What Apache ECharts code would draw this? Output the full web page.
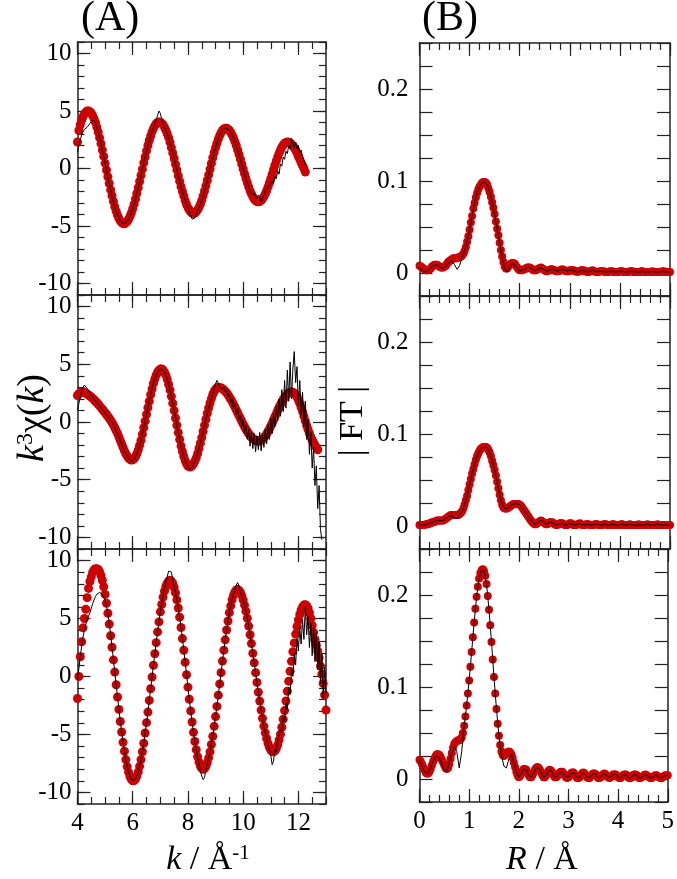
<!DOCTYPE html>
<html><head><meta charset="utf-8">
<script src="https://cdn.jsdelivr.net/npm/echarts@6/dist/echarts.min.js"></script>
<style>html,body{margin:0;padding:0;background:#fff}#c{width:677px;height:879px}</style>
</head><body><div id="c"></div>
<script>
// ---- sampling grids ----
const kStart = 4, kStep = 0.05;
const rStart = 0, rFitStep = 0.025, rExpStep = 0.05;

// ---- tick positions / labels ----
const kMajorTicks = [4, 6, 8, 10, 12];
const chiTicks = [-10, -5, 0, 5, 10];
const rMajorTicks = [0, 1, 2, 3, 4, 5];
const ftLabelTicks = [0, 0.1, 0.2];

// ---- (A) k^3 chi(k): fit (red dots) and experiment (black line) ----
const chiFit1 = [
2.3,3.3,3.8,4.2,4.5,4.75,4.9,5.0,5.0,4.93,
4.8,4.59,4.32,4.0,3.6,3.17,2.68,2.16,1.61,1.05,
0.45,-0.13,-0.72,-1.3,-1.86,-2.37,-2.86,-3.33,-3.71,-4.07,
-4.34,-4.56,-4.71,-4.79,-4.8,-4.73,-4.61,-4.42,-4.17,-3.87,
-3.5,-3.1,-2.65,-2.16,-1.67,-1.13,-0.6,-0.06,0.49,1.0,
1.53,2.0,2.43,2.83,3.19,3.47,3.71,3.89,4.0,4.05,
4.03,3.95,3.8,3.6,3.33,3.03,2.69,2.28,1.82,1.35,
0.87,0.37,-0.12,-0.62,-1.11,-1.58,-2.0,-2.39,-2.79,-3.13,
-3.4,-3.61,-3.77,-3.87,-3.9,-3.87,-3.77,-3.6,-3.38,-3.1,
-2.77,-2.38,-1.96,-1.51,-1.04,-0.55,-0.05,0.44,0.93,1.39,
1.82,2.2,2.56,2.86,3.12,3.31,3.43,3.49,3.49,3.43,
3.31,3.14,2.92,2.65,2.34,2.0,1.61,1.22,0.81,0.38,
-0.04,-0.46,-0.87,-1.24,-1.6,-1.94,-2.21,-2.45,-2.65,-2.79,
-2.87,-2.9,-2.87,-2.79,-2.64,-2.45,-2.21,-1.93,-1.6,-1.26,
-0.88,-0.5,-0.1,0.28,0.65,1.0,1.32,1.61,1.85,2.04,
2.19,2.27,2.3,2.28,2.22,2.12,1.98,1.8,1.6,1.35,
1.05,0.8,0.5,0.25,0.0,-0.3];
const chiExp1 = [
1.4,2.0,2.5,2.9,3.2,3.4,3.5,3.6,3.7,3.9,
4.1,4.2,4.2,3.95,3.6,3.17,2.68,2.16,1.61,1.05,
0.45,-0.13,-0.72,-1.3,-1.86,-2.37,-2.86,-3.33,-3.71,-4.07,
-4.34,-4.56,-4.71,-4.79,-4.8,-4.73,-4.61,-4.42,-4.17,-3.87,
-3.5,-3.1,-2.65,-2.16,-1.67,-1.13,-0.6,-0.06,0.49,1.0,
1.53,2.0,2.43,2.83,3.19,3.5,3.85,4.2,4.6,5.0,
4.8,4.3,3.9,3.6,3.33,3.03,2.69,2.28,1.82,1.35,
0.87,0.37,-0.12,-0.62,-1.11,-1.58,-2.0,-2.39,-2.79,-3.13,
-3.45,-3.8,-4.1,-4.4,-4.5,-4.3,-4.0,-3.7,-3.38,-3.1,
-2.77,-2.38,-1.96,-1.51,-1.04,-0.55,-0.05,0.44,0.93,1.39,
1.82,2.2,2.56,2.86,3.12,3.31,3.43,3.49,3.49,3.43,
3.31,3.14,2.92,2.65,2.34,2.0,1.61,1.22,0.81,0.38,
-0.04,-0.46,-0.87,-1.24,-1.6,-1.94,-2.0,-2.3,-2.1,-2.4,
-2.6,-2.3,-2.5,-2.9,-2.6,-2.3,-2.0,-1.8,-1.9,-1.5,
-1.6,-1.1,-1.3,-0.7,-0.9,-0.2,-0.5,0.4,0.2,1.0,
0.8,1.5,1.3,2.0,1.7,2.6,2.2,1.8,2.3,1.7,
2.0,1.4,1.6,1.0,0.9,0.4,0.3];

const chiFit2 = [
2.3,2.45,2.55,2.6,2.6,2.55,2.5,2.42,2.34,2.25,
2.15,2.05,1.93,1.8,1.68,1.55,1.4,1.25,1.1,0.95,
0.8,0.65,0.5,0.32,0.15,-0.05,-0.25,-0.5,-0.75,-1.0,
-1.3,-1.6,-1.9,-2.2,-2.5,-2.75,-2.95,-3.12,-3.23,-3.3,
-3.28,-3.19,-3.01,-2.75,-2.42,-2.02,-1.59,-1.06,-0.5,0.07,
0.65,1.23,1.8,2.36,2.86,3.34,3.72,4.05,4.31,4.49,
4.58,4.59,4.51,4.32,4.06,3.69,3.25,2.78,2.22,1.62,
0.99,0.35,-0.29,-0.92,-1.52,-2.08,-2.55,-2.99,-3.36,-3.62,
-3.81,-3.89,-3.89,-3.8,-3.63,-3.39,-3.11,-2.74,-2.3,-1.83,
-1.35,-0.82,-0.29,0.22,0.74,1.21,1.65,2.03,2.38,2.64,
2.84,2.96,3.0,2.99,2.95,2.88,2.78,2.67,2.53,2.36,
2.17,1.98,1.76,1.53,1.3,1.05,0.8,0.55,0.3,0.05,
-0.18,-0.41,-0.63,-0.82,-1.01,-1.17,-1.32,-1.43,-1.53,-1.6,
-1.64,-1.65,-1.63,-1.58,-1.49,-1.37,-1.22,-1.03,-0.83,-0.6,
-0.35,-0.1,0.18,0.45,0.72,1.0,1.26,1.5,1.73,1.95,
2.13,2.29,2.42,2.52,2.57,2.6,2.58,2.5,2.35,2.15,
1.9,1.6,1.25,0.9,0.5,0.1,-0.3,-0.65,-1.0,-1.3,
-1.55,-1.8,-2.0,-2.2,-2.4];
const chiExp2 = [
1.0,1.6,2.2,2.7,3.0,3.2,3.1,2.9,2.7,2.5,
2.3,2.1,1.93,1.8,1.68,1.55,1.4,1.25,1.1,0.95,
0.8,0.65,0.5,0.32,0.15,-0.05,-0.25,-0.5,-0.75,-1.0,
-1.3,-1.6,-1.9,-2.2,-2.5,-2.75,-2.95,-3.15,-3.3,-3.4,
-3.4,-3.25,-3.01,-2.75,-2.42,-2.02,-1.59,-1.06,-0.5,0.07,
0.65,1.23,1.8,2.36,2.86,3.34,3.72,4.05,4.31,4.49,
4.58,4.59,4.51,4.32,4.06,3.69,3.25,2.78,2.22,1.62,
0.99,0.35,-0.29,-0.92,-1.52,-2.08,-2.55,-2.99,-3.36,-3.65,
-3.9,-4.1,-4.2,-3.95,-3.63,-3.39,-3.11,-2.74,-2.3,-1.83,
-1.35,-0.82,-0.29,0.22,0.74,1.21,1.65,2.03,2.45,2.9,
3.3,3.6,3.4,3.1,3.2,2.8,3.0,2.6,2.8,2.2,
2.5,1.7,2.0,1.2,1.6,0.7,1.2,0.2,0.6,-0.4,
0.2,-1.0,-0.3,-1.5,-0.6,-2.1,-0.9,-2.3,-1.0,-2.6,
-1.2,-2.4,-0.9,-2.5,-1.0,-2.2,-0.6,-1.9,-0.2,-1.5,
0.3,-1.0,0.7,-0.4,1.4,0.1,2.0,0.5,2.8,0.9,
3.6,1.2,4.5,1.8,5.2,2.0,4.6,6.1,3.4,4.8,
1.4,3.6,0.6,2.6,-0.3,1.8,-1.5,0.2,-2.8,-0.9,
-4.0,-2.2,-5.5,-3.8,-7.5,-5.5,-9.3,-10.2];

const chiFit3 = [
-1.9,0.0,1.7,3.0,4.2,5.0,5.8,6.8,7.6,8.2,
8.6,9.0,9.2,9.3,9.3,9.24,9.04,8.71,8.28,7.74,
7.08,6.32,5.46,4.52,3.52,2.52,1.43,0.38,-0.71,-1.77,
-2.84,-3.88,-4.79,-5.68,-6.44,-7.17,-7.77,-8.25,-8.63,-8.87,
-8.99,-8.97,-8.84,-8.59,-8.23,-7.75,-7.17,-6.49,-5.76,-4.87,
-3.98,-3.07,-2.06,-1.06,-0.05,0.97,1.96,2.92,3.85,4.71,
5.58,6.22,6.85,7.36,7.76,8.06,8.24,8.3,8.23,8.02,
7.68,7.21,6.61,5.91,5.12,4.23,3.27,2.26,1.22,0.15,
-0.92,-1.96,-2.97,-3.93,-4.82,-5.61,-6.31,-6.91,-7.38,-7.72,
-7.93,-8.0,-7.94,-7.75,-7.44,-7.02,-6.5,-5.87,-5.16,-4.3,
-3.46,-2.58,-1.61,-0.64,0.33,1.33,2.27,3.16,4.01,4.79,
5.51,6.09,6.62,7.02,7.3,7.46,7.5,7.43,7.25,6.98,
6.61,6.16,5.63,5.03,4.35,3.6,2.84,2.0,1.18,0.33,
-0.51,-1.35,-2.12,-2.9,-3.61,-4.28,-4.86,-5.35,-5.77,-6.1,
-6.34,-6.47,-6.5,-6.42,-6.21,-5.9,-5.48,-4.98,-4.38,-3.69,
-2.94,-2.11,-1.27,-0.4,0.45,1.31,2.14,2.9,3.66,4.31,
4.87,5.35,5.74,6.01,6.16,6.2,6.1,5.9,5.5,5.0,
4.4,3.8,3.2,2.7,2.2,1.6,0.9,0.2,-0.6,-1.6,
-2.9];
const chiExp3 = [
-0.3,0.7,1.7,2.6,3.4,4.0,4.5,4.9,5.2,5.5,
5.9,6.3,6.6,6.9,7.1,7.2,7.25,7.2,7.1,6.9,
6.6,6.1,5.4,4.6,3.6,2.6,1.5,0.4,-0.7,-1.77,
-2.84,-3.88,-4.79,-5.68,-6.44,-7.17,-7.77,-8.25,-8.63,-8.87,
-8.99,-8.97,-8.84,-8.59,-8.23,-7.75,-7.17,-6.49,-5.76,-4.87,
-3.98,-3.07,-2.06,-1.06,-0.05,0.97,1.96,2.92,3.85,4.71,
5.58,6.3,7.0,7.6,8.1,8.6,9.1,9.2,9.0,8.4,
7.8,7.21,6.61,5.91,5.12,4.23,3.27,2.26,1.22,0.15,
-0.92,-1.96,-2.97,-3.93,-4.82,-5.61,-6.31,-6.95,-7.5,-8.2,
-8.6,-8.9,-8.7,-8.1,-7.5,-7.02,-6.5,-5.87,-5.16,-4.3,
-3.46,-2.58,-1.61,-0.64,0.33,1.33,2.27,3.16,4.01,4.79,
5.51,6.09,6.62,7.1,7.5,7.9,8.1,7.8,7.3,6.98,
6.61,6.16,5.63,5.03,4.35,3.6,2.84,2.0,1.18,0.33,
-0.51,-1.35,-2.12,-2.9,-3.61,-4.28,-4.86,-5.35,-5.9,-6.3,
-6.8,-7.6,-7.3,-6.3,-6.5,-5.5,-5.6,-4.6,-4.8,-3.5,
-3.9,-2.3,-2.9,-0.9,-1.5,0.6,0.0,2.0,1.0,3.3,
2.2,4.2,2.8,4.9,3.2,6.0,3.6,5.2,2.5,4.6,
1.8,4.2,1.3,3.8,0.6,3.0,-0.6,2.0,-1.8,0.8,
-1.5];

// ---- (B) |FT|: fit (red dots, step 0.025) and experiment (black line, step 0.05) ----
const ftFit1 = [
0.008,0.007,0.006,0.005,0.004,0.003,0.003,0.003,
0.004,0.005,0.007,0.008,0.009,0.009,0.009,0.008,
0.007,0.006,0.006,0.006,0.007,0.008,0.010,0.012,
0.013,0.014,0.015,0.016,0.016,0.016,0.016,0.017,
0.017,0.018,0.019,0.021,0.024,0.028,0.034,0.040,
0.047,0.055,0.062,0.070,0.076,0.082,0.087,0.091,
0.094,0.096,0.098,0.099,0.099,0.098,0.096,0.092,
0.088,0.083,0.077,0.071,0.064,0.056,0.048,0.041,
0.033,0.025,0.018,0.012,0.007,0.005,0.005,0.007,
0.009,0.010,0.011,0.011,0.010,0.008,0.006,0.004,
0.003,0.003,0.003,0.004,0.004,0.005,0.006,0.006,
0.006,0.005,0.004,0.003,0.003,0.003,0.004,0.005,
0.005,0.006,0.005,0.004,0.003,0.002,0.002,0.003,
0.003,0.004,0.004,0.003,0.003,0.002,0.002,0.002,
0.003,0.003,0.004,0.003,0.003,0.002,0.002,0.002,
0.003,0.003,0.003,0.003,0.002,0.002,0.001,0.002,
0.002,0.003,0.003,0.003,0.002,0.002,0.001,0.001,
0.002,0.002,0.003,0.002,0.002,0.001,0.001,0.001,
0.002,0.002,0.002,0.002,0.001,0.001,0.001,0.001,
0.002,0.002,0.002,0.001,0.001,0.001,0.001,0.001,
0.002,0.002,0.002,0.001,0.001,0.001,0.001,0.001,
0.002,0.002,0.002,0.001,0.001,0.001,0.001,0.001,
0.001,0.002,0.002,0.001,0.001,0.001,0.001,0.001,
0.001,0.001,0.002,0.001,0.001,0.001,0.001,0.001,
0.001,0.001,0.002,0.002,0.001,0.001,0.001,0.001,
0.001];
const ftExp1 = [
0.006,0.003,0.001,0.002,0.004,0.007,0.009,0.009,0.007,0.005,
0.006,0.009,0.012,0.013,0.009,0.004,0.008,0.017,0.024,0.034,
0.047,0.062,0.076,0.087,0.094,0.098,0.099,0.096,0.088,0.077,
0.064,0.048,0.033,0.017,0.005,0.001,0.006,0.010,0.009,0.005,
0.002,0.003,0.004,0.006,0.006,0.004,0.002,0.004,0.005,0.005,
0.003,0.002,0.003,0.004,0.003,0.002,0.003,0.004,0.003,0.002,
0.003,0.003,0.002,0.001,0.002,0.003,0.002,0.001,0.002,0.003,
0.002,0.001,0.002,0.002,0.001,0.001,0.002,0.002,0.001,0.001,
0.002,0.002,0.001,0.001,0.002,0.002,0.001,0.001,0.001,0.002,
0.001,0.001,0.001,0.002,0.001,0.001,0.001,0.002,0.001,0.001,
0.001];

const ftFit2 = [
0.001,0.001,0.001,0.001,0.001,0.002,0.002,0.002,
0.003,0.003,0.004,0.004,0.005,0.005,0.006,0.006,
0.006,0.006,0.006,0.006,0.007,0.008,0.009,0.010,
0.011,0.012,0.012,0.012,0.012,0.012,0.012,0.012,
0.013,0.014,0.016,0.019,0.023,0.028,0.033,0.039,
0.045,0.051,0.057,0.062,0.067,0.072,0.076,0.079,
0.082,0.084,0.085,0.086,0.086,0.086,0.085,0.083,
0.080,0.076,0.071,0.066,0.061,0.055,0.048,0.041,
0.034,0.028,0.023,0.020,0.019,0.019,0.019,0.020,
0.021,0.022,0.023,0.024,0.024,0.024,0.024,0.024,
0.023,0.022,0.020,0.018,0.016,0.014,0.012,0.010,
0.008,0.006,0.004,0.003,0.002,0.002,0.003,0.004,
0.005,0.006,0.005,0.004,0.003,0.002,0.002,0.003,
0.004,0.004,0.004,0.003,0.002,0.001,0.001,0.002,
0.003,0.003,0.003,0.002,0.001,0.001,0.001,0.002,
0.003,0.003,0.002,0.001,0.001,0.001,0.002,0.002,
0.003,0.002,0.001,0.001,0.001,0.002,0.002,0.002,
0.001,0.001,0.001,0.001,0.002,0.002,0.002,0.001,
0.001,0.001,0.001,0.002,0.002,0.002,0.001,0.001,
0.001,0.001,0.002,0.002,0.001,0.001,0.001,0.001,
0.001,0.002,0.002,0.001,0.001,0.001,0.001,0.001,
0.002,0.001,0.001,0.001,0.001,0.001,0.001,0.002,
0.001,0.001,0.001,0.001,0.001,0.001,0.002,0.001,
0.001,0.001,0.001,0.001,0.001,0.001,0.002,0.001,
0.001,0.001,0.001,0.001,0.001,0.001,0.001,0.001,
0.001];
const ftExp2 = [
0.001,0.001,0.001,0.002,0.003,0.004,0.005,0.006,0.006,0.006,
0.007,0.009,0.011,0.011,0.009,0.008,0.012,0.016,0.023,0.033,
0.045,0.057,0.067,0.076,0.082,0.085,0.086,0.085,0.080,0.071,
0.061,0.048,0.034,0.023,0.019,0.019,0.021,0.023,0.024,0.024,
0.023,0.020,0.016,0.012,0.008,0.004,0.002,0.003,0.006,0.006,
0.003,0.002,0.004,0.004,0.002,0.001,0.003,0.003,0.001,0.001,
0.003,0.002,0.001,0.002,0.003,0.001,0.001,0.002,0.001,0.001,
0.002,0.002,0.001,0.001,0.002,0.001,0.001,0.002,0.001,0.001,
0.001,0.002,0.001,0.001,0.002,0.001,0.001,0.001,0.001,0.001,
0.001,0.002,0.001,0.001,0.001,0.002,0.001,0.001,0.001,0.001,
0.001];

const ftFit3 = [
0.021,0.019,0.016,0.013,0.010,0.007,0.006,0.006,
0.008,0.011,0.015,0.019,0.022,0.025,0.027,0.027,
0.026,0.024,0.021,0.018,0.015,0.012,0.011,0.012,
0.016,0.022,0.028,0.034,0.038,0.040,0.041,0.042,
0.042,0.043,0.045,0.050,0.058,0.068,0.080,0.093,
0.107,0.122,0.138,0.154,0.170,0.185,0.198,0.209,
0.218,0.224,0.227,0.228,0.226,0.221,0.212,0.199,
0.184,0.167,0.149,0.130,0.111,0.093,0.076,0.060,
0.047,0.037,0.030,0.026,0.025,0.026,0.028,0.029,
0.030,0.029,0.027,0.023,0.018,0.013,0.008,0.004,
0.002,0.003,0.006,0.009,0.011,0.011,0.010,0.007,
0.004,0.002,0.002,0.004,0.007,0.010,0.012,0.013,
0.012,0.010,0.007,0.004,0.002,0.002,0.004,0.007,
0.009,0.010,0.009,0.007,0.004,0.002,0.002,0.003,
0.005,0.007,0.008,0.008,0.006,0.004,0.002,0.001,
0.002,0.004,0.006,0.007,0.007,0.005,0.003,0.001,
0.001,0.002,0.004,0.006,0.007,0.006,0.004,0.002,
0.001,0.001,0.003,0.005,0.006,0.006,0.005,0.003,
0.001,0.001,0.002,0.004,0.005,0.006,0.005,0.003,
0.002,0.001,0.002,0.003,0.005,0.005,0.005,0.003,
0.002,0.001,0.001,0.003,0.004,0.005,0.005,0.004,
0.002,0.001,0.001,0.002,0.004,0.005,0.005,0.004,
0.002,0.001,0.001,0.002,0.003,0.004,0.005,0.004,
0.003,0.002,0.001,0.001,0.002,0.003,0.004,0.004,
0.003,0.002,0.001,0.001,0.002,0.003,0.004,0.004,
0.004];
const ftExp3 = [
0.020,0.014,0.008,0.006,0.009,0.016,0.022,0.025,0.023,0.016,
0.010,0.008,0.018,0.028,0.035,0.030,0.012,0.030,0.058,0.080,
0.107,0.138,0.170,0.198,0.218,0.227,0.226,0.212,0.184,0.149,
0.111,0.076,0.047,0.026,0.014,0.012,0.022,0.027,0.018,0.008,
0.002,0.006,0.011,0.010,0.004,0.002,0.007,0.012,0.012,0.007,
0.002,0.004,0.009,0.009,0.004,0.002,0.005,0.008,0.006,0.002,
0.002,0.006,0.007,0.003,0.001,0.004,0.007,0.004,0.001,0.003,
0.006,0.005,0.001,0.002,0.005,0.005,0.002,0.002,0.005,0.005,
0.002,0.001,0.004,0.005,0.002,0.001,0.004,0.005,0.002,0.001,
0.003,0.005,0.003,0.001,0.002,0.004,0.003,0.001,0.002,0.004,
0.004];

// ---------------------------------------------------------------
const FONT = 'Liberation Serif';
const AXC = '#222';
const RED = '#cc0000';

function pairs(vals, start, step) {
  return vals.map((v, i) => [Math.round((start + i * step) * 1000) / 1000, v]);
}

const option = {
  animation: false,
  backgroundColor: '#fff',
  textStyle: { fontFamily: FONT },
  grid: [], xAxis: [], yAxis: [], series: [], graphic: []
};

function tick(len) {
  return { show: true, inside: true, length: len, lineStyle: { color: AXC, width: 1.2 } };
}
function axLine(show) {
  return { show: show, onZero: false, lineStyle: { color: AXC, width: 1.5 } };
}
function lbl(vals, margin) {
  return { show: true, customValues: vals, fontFamily: FONT, fontSize: 25, color: '#000', margin: margin };
}

function addPanel(p) {
  const gi = option.grid.length;
  option.grid.push({ left: p.left, top: p.top, width: p.width, height: p.height });
  const xi = option.xAxis.length;
  ['bottom', 'top'].forEach(pos => {
    option.xAxis.push({
      type: 'value', gridIndex: gi, position: pos, min: p.xmin, max: p.xmax,
      splitLine: { show: false }, axisLine: axLine(true),
      axisTick: Object.assign(tick(13), { customValues: p.xMajor }),
      axisLabel: (pos === 'bottom' && p.xLabels) ? lbl(p.xMajor, 7) : { show: false }
    });
    option.xAxis.push({
      type: 'value', gridIndex: gi, position: pos, min: p.xmin, max: p.xmax, interval: p.xMinor,
      splitLine: { show: false }, axisLine: axLine(false), axisTick: tick(7), axisLabel: { show: false }
    });
  });
  const yi = option.yAxis.length;
  ['left', 'right'].forEach(pos => {
    if (p.yMinor) {
      option.yAxis.push({
        type: 'value', gridIndex: gi, position: pos, min: p.ymin, max: p.ymax,
        splitLine: { show: false }, axisLine: axLine(true),
        axisTick: Object.assign(tick(13), { customValues: p.yMajor }),
        axisLabel: pos === 'left' ? lbl(p.yMajor, p.yMargin) : { show: false }
      });
      option.yAxis.push({
        type: 'value', gridIndex: gi, position: pos, min: p.ymin, max: p.ymax, interval: p.yMinor,
        splitLine: { show: false }, axisLine: axLine(false), axisTick: tick(7), axisLabel: { show: false }
      });
    } else {
      option.yAxis.push({
        type: 'value', gridIndex: gi, position: pos, min: p.ymin, max: p.ymax, interval: p.yStep,
        splitLine: { show: false }, axisLine: axLine(true), axisTick: tick(13),
        axisLabel: pos === 'left' ? lbl(p.yLabels, p.yMargin) : { show: false }
      });
    }
  });
  option.series.push({
    type: 'scatter', xAxisIndex: xi, yAxisIndex: yi, data: p.fit, symbol: 'circle',
    symbolSize: p.sym, itemStyle: { color: RED, opacity: 1 }, z: 2, silent: true
  });
  option.series.push({
    type: 'line', xAxisIndex: xi, yAxisIndex: yi, data: p.exp, showSymbol: false, symbol: 'none',
    lineStyle: { color: '#000', width: 1 }, z: 3, silent: true
  });
}

const leftTops = [42, 295, 549], leftH = [253, 254, 255];
const rightTops = [43, 296, 549], rightH = [253, 253, 253];
const chiFits = [chiFit1, chiFit2, chiFit3], chiExps = [chiExp1, chiExp2, chiExp3];
const ftFits = [ftFit1, ftFit2, ftFit3], ftExps = [ftExp1, ftExp2, ftExp3];

for (let r = 0; r < 3; r++) {
  addPanel({
    left: 77.5, width: 248.5, top: leftTops[r], height: leftH[r],
    xmin: 4, xmax: 13, xMajor: kMajorTicks, xMinor: 0.5, xLabels: r === 2,
    ymin: -11, ymax: 11, yMajor: chiTicks, yMinor: 1, yMargin: 6,
    fit: pairs(chiFits[r], kStart, kStep), exp: pairs(chiExps[r], kStart, kStep), sym: 9
  });
}
for (let r = 0; r < 3; r++) {
  addPanel({
    left: 419.5, width: 250.5, top: rightTops[r], height: rightH[r],
    xmin: 0, xmax: 5, xMajor: rMajorTicks, xMinor: 0.2, xLabels: r === 2,
    ymin: -0.025, ymax: 0.25, yStep: 0.025, yLabels: ftLabelTicks, yMargin: 11,
    fit: pairs(ftFits[r], rStart, rFitStep), exp: pairs(ftExps[r], rStart, rExpStep), sym: 8
  });
}

const tFont = { fontFamily: FONT, fontSize: 34, fill: '#000' };
const yFont = { fontFamily: FONT, fontSize: 38, fill: '#000' };
option.graphic = [
  { type: 'text', x: 81, y: 19, style: { text: '(A)', fontFamily: FONT, fontSize: 42, fill: '#000', align: 'left', verticalAlign: 'middle' } },
  { type: 'text', x: 422, y: 19, style: { text: '(B)', fontFamily: FONT, fontSize: 42, fill: '#000', align: 'left', verticalAlign: 'middle' } },
  { type: 'text', x: 33, y: 418, rotation: Math.PI / 2,
    style: { text: '{i|k}{s|3}{n|χ(}{i|k}{n|)}', align: 'center', verticalAlign: 'middle',
      rich: { i: Object.assign({ fontStyle: 'italic' }, yFont), n: yFont,
              s: { fontFamily: FONT, fontSize: 24, fill: '#000', verticalAlign: 'top' } } } },
  { type: 'text', x: 353, y: 421, rotation: Math.PI / 2,
    style: { text: '| FT |', fontFamily: FONT, fontSize: 34, fill: '#000', align: 'center', verticalAlign: 'middle' } },
  { type: 'text', x: 208, y: 860,
    style: { text: '{i|k}{n| / Å}{s|-1}', align: 'center', verticalAlign: 'middle',
      rich: { i: Object.assign({ fontStyle: 'italic' }, tFont), n: tFont,
              s: { fontFamily: FONT, fontSize: 21, fill: '#000', verticalAlign: 'top' } } } },
  { type: 'text', x: 542, y: 860,
    style: { text: '{i|R}{n| / Å}', align: 'center', verticalAlign: 'middle',
      rich: { i: Object.assign({ fontStyle: 'italic' }, tFont), n: tFont } } }
];

const chart = echarts.init(document.getElementById('c'), null, { renderer: 'canvas' });
chart.setOption(option);
</script>
</body></html>
